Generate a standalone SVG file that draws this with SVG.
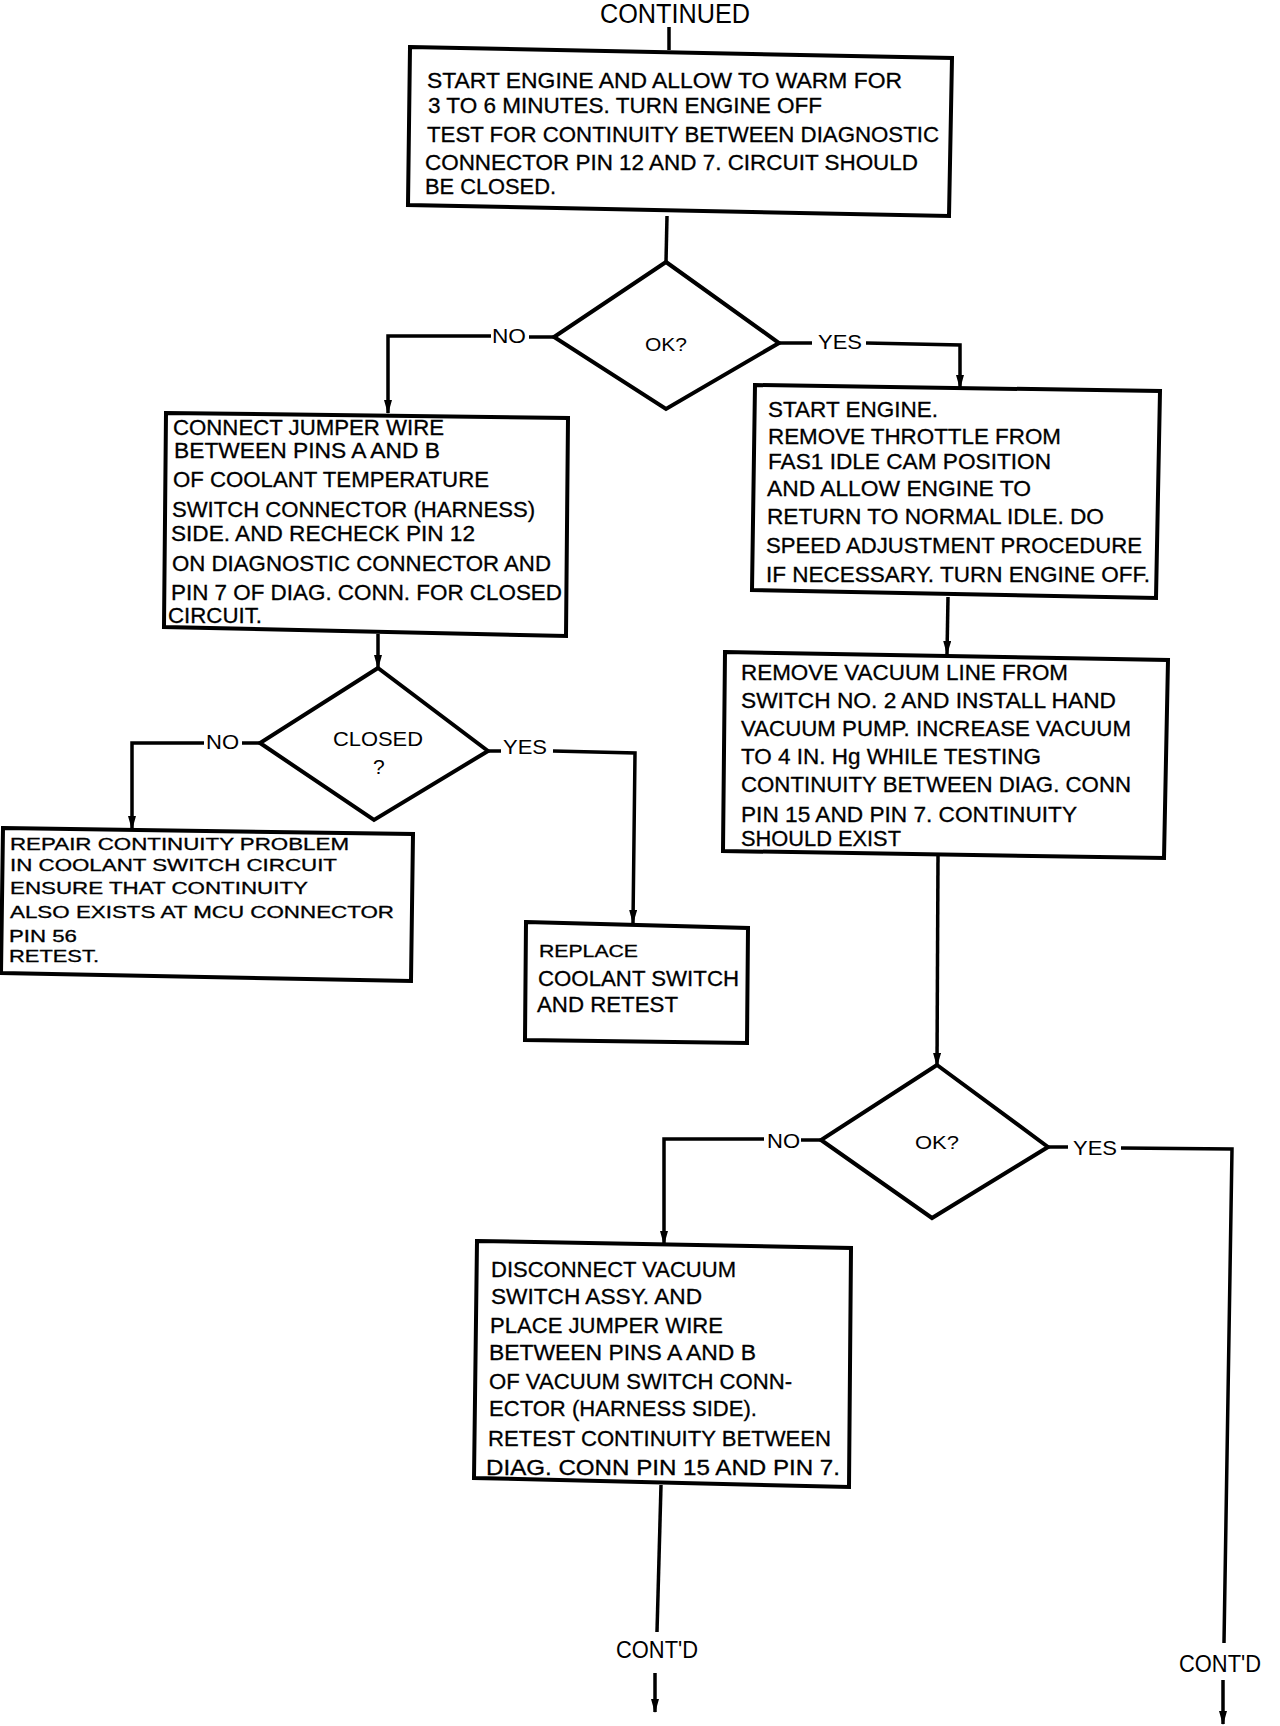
<svg xmlns="http://www.w3.org/2000/svg" width="1280" height="1726" viewBox="0 0 1280 1726">
<style>
.bg{fill:#fff}
.box{fill:#fff;stroke:#000;stroke-width:4;stroke-linejoin:miter}
.dia{fill:#fff;stroke:#000;stroke-width:4;stroke-linejoin:miter}
.ln{fill:none;stroke:#000;stroke-width:3.5}
text{font-family:"Liberation Sans",Arial,sans-serif;fill:#000}
.t1{font-size:22px;stroke:#000;stroke-width:0.3}
.t{font-size:22px;stroke:#000;stroke-width:0.3}
.s{font-size:17px;stroke:#000;stroke-width:0.3}
.lb{font-size:21px}
.q{font-size:18px}
.big{font-size:27px}
.cd{font-size:23px}
</style>
<defs>
<marker id="ah" viewBox="0 0 14 8" refX="13" refY="4" markerWidth="14" markerHeight="8" markerUnits="userSpaceOnUse" orient="auto">
<path d="M0,0 L14,4 L0,8 z" fill="#000"/>
</marker>
</defs>
<rect class="bg" x="0" y="0" width="1280" height="1726"/>

<g id="connectors">
<line class="ln" x1="669" y1="27" x2="669" y2="50"/>
<line class="ln" x1="667" y1="216" x2="666" y2="262"/>
<line class="ln" x1="554" y1="337" x2="529" y2="337"/>
<polyline class="ln" points="491,336 388,336 388,413" marker-end="url(#ah)"/>
<line class="ln" x1="779" y1="343" x2="812" y2="343"/>
<polyline class="ln" points="866,343 960,345 960,388" marker-end="url(#ah)"/>
<line class="ln" x1="378" y1="634" x2="378" y2="668" marker-end="url(#ah)"/>
<line class="ln" x1="260" y1="743" x2="242" y2="743"/>
<polyline class="ln" points="204,743 132,743 132,829" marker-end="url(#ah)"/>
<line class="ln" x1="488" y1="751" x2="501" y2="751"/>
<polyline class="ln" points="553,751 635,753 633,923" marker-end="url(#ah)"/>
<line class="ln" x1="948" y1="597" x2="947" y2="654" marker-end="url(#ah)"/>
<line class="ln" x1="938" y1="856" x2="937" y2="1066" marker-end="url(#ah)"/>
<line class="ln" x1="821" y1="1140" x2="801" y2="1140"/>
<polyline class="ln" points="764,1139 664,1139 664,1244" marker-end="url(#ah)"/>
<line class="ln" x1="1048" y1="1147" x2="1068" y2="1147"/>
<polyline class="ln" points="1121,1148 1232,1149 1224,1643"/>
<line class="ln" x1="661" y1="1485" x2="657" y2="1632"/>
<line class="ln" x1="655" y1="1673" x2="655" y2="1712" marker-end="url(#ah)"/>
<line class="ln" x1="1223" y1="1680" x2="1223" y2="1724" marker-end="url(#ah)"/>
</g>

<g id="start-continued">
<text class="big" x="600" y="23" textLength="150" lengthAdjust="spacingAndGlyphs">CONTINUED</text>
</g>

<g id="box1">
<polygon class="box" points="410,47 952,58 949,216 408,205"/>
<text class="t1" x="427" y="88" textLength="475" lengthAdjust="spacingAndGlyphs">START ENGINE AND ALLOW TO WARM FOR</text>
<text class="t1" x="428" y="113" textLength="394" lengthAdjust="spacingAndGlyphs">3 TO 6 MINUTES. TURN ENGINE OFF</text>
<text class="t1" x="427" y="142" textLength="512" lengthAdjust="spacingAndGlyphs">TEST FOR CONTINUITY BETWEEN DIAGNOSTIC</text>
<text class="t1" x="425" y="170" textLength="493" lengthAdjust="spacingAndGlyphs">CONNECTOR PIN 12 AND 7. CIRCUIT SHOULD</text>
<text class="t1" x="425" y="194" textLength="131" lengthAdjust="spacingAndGlyphs">BE CLOSED.</text>
</g>

<g id="decision1">
<polygon class="dia" points="666,262 779,343 666,409 554,337"/>
<text class="q" x="645" y="351" textLength="42" lengthAdjust="spacingAndGlyphs">OK?</text>
<text class="lb" x="492" y="343" textLength="34" lengthAdjust="spacingAndGlyphs">NO</text>
<text class="lb" x="818" y="349" textLength="44" lengthAdjust="spacingAndGlyphs">YES</text>
</g>

<g id="box2">
<polygon class="box" points="166,413 568,418 566,636 164,627"/>
<text class="t" x="173" y="435" textLength="271" lengthAdjust="spacingAndGlyphs">CONNECT JUMPER WIRE</text>
<text class="t" x="174" y="458" textLength="266" lengthAdjust="spacingAndGlyphs">BETWEEN PINS A AND B</text>
<text class="t" x="173" y="487" textLength="316" lengthAdjust="spacingAndGlyphs">OF COOLANT TEMPERATURE</text>
<text class="t" x="172" y="517" textLength="363" lengthAdjust="spacingAndGlyphs">SWITCH CONNECTOR (HARNESS)</text>
<text class="t" x="171" y="541" textLength="304" lengthAdjust="spacingAndGlyphs">SIDE. AND RECHECK PIN 12</text>
<text class="t" x="172" y="571" textLength="379" lengthAdjust="spacingAndGlyphs">ON DIAGNOSTIC CONNECTOR AND</text>
<text class="t" x="171" y="600" textLength="391" lengthAdjust="spacingAndGlyphs">PIN 7 OF DIAG. CONN. FOR CLOSED</text>
<text class="t" x="168" y="623" textLength="94" lengthAdjust="spacingAndGlyphs">CIRCUIT.</text>
</g>

<g id="box3">
<polygon class="box" points="755,385 1160,391 1156,598 752,590"/>
<text class="t" x="768" y="417" textLength="170" lengthAdjust="spacingAndGlyphs">START ENGINE.</text>
<text class="t" x="768" y="444" textLength="293" lengthAdjust="spacingAndGlyphs">REMOVE THROTTLE FROM</text>
<text class="t" x="768" y="469" textLength="283" lengthAdjust="spacingAndGlyphs">FAS1 IDLE CAM POSITION</text>
<text class="t" x="767" y="496" textLength="264" lengthAdjust="spacingAndGlyphs">AND ALLOW ENGINE TO</text>
<text class="t" x="767" y="524" textLength="337" lengthAdjust="spacingAndGlyphs">RETURN TO NORMAL IDLE. DO</text>
<text class="t" x="766" y="553" textLength="376" lengthAdjust="spacingAndGlyphs">SPEED ADJUSTMENT PROCEDURE</text>
<text class="t" x="766" y="582" textLength="384" lengthAdjust="spacingAndGlyphs">IF NECESSARY. TURN ENGINE OFF.</text>
</g>

<g id="decision2">
<polygon class="dia" points="378,668 488,751 374,820 260,743"/>
<text class="lb" x="333" y="746" textLength="90" lengthAdjust="spacingAndGlyphs">CLOSED</text>
<text class="lb" x="373" y="774">?</text>
<text class="lb" x="206" y="749" textLength="33" lengthAdjust="spacingAndGlyphs">NO</text>
<text class="lb" x="503" y="754" textLength="44" lengthAdjust="spacingAndGlyphs">YES</text>
</g>

<g id="box4">
<polygon class="box" points="3,828 413,834 411,981 1,973"/>
<text class="s" x="10" y="850" textLength="339" lengthAdjust="spacingAndGlyphs">REPAIR CONTINUITY PROBLEM</text>
<text class="s" x="10" y="871" textLength="327" lengthAdjust="spacingAndGlyphs">IN COOLANT SWITCH CIRCUIT</text>
<text class="s" x="10" y="894" textLength="298" lengthAdjust="spacingAndGlyphs">ENSURE THAT CONTINUITY</text>
<text class="s" x="10" y="918" textLength="384" lengthAdjust="spacingAndGlyphs">ALSO EXISTS AT MCU CONNECTOR</text>
<text class="s" x="9" y="942" textLength="68" lengthAdjust="spacingAndGlyphs">PIN 56</text>
<text class="s" x="9" y="962" textLength="90" lengthAdjust="spacingAndGlyphs">RETEST.</text>
</g>

<g id="box5">
<polygon class="box" points="526,922 748,928 747,1043 525,1040"/>
<text class="s" x="539" y="957" textLength="99" lengthAdjust="spacingAndGlyphs">REPLACE</text>
<text class="t" x="538" y="986" textLength="201" lengthAdjust="spacingAndGlyphs">COOLANT SWITCH</text>
<text class="t" x="537" y="1012" textLength="141" lengthAdjust="spacingAndGlyphs">AND RETEST</text>
</g>

<g id="box6">
<polygon class="box" points="725,652 1168,660 1164,858 723,851"/>
<text class="t" x="741" y="680" textLength="327" lengthAdjust="spacingAndGlyphs">REMOVE VACUUM LINE FROM</text>
<text class="t" x="741" y="708" textLength="375" lengthAdjust="spacingAndGlyphs">SWITCH NO. 2 AND INSTALL HAND</text>
<text class="t" x="741" y="736" textLength="390" lengthAdjust="spacingAndGlyphs">VACUUM PUMP. INCREASE VACUUM</text>
<text class="t" x="741" y="764" textLength="300" lengthAdjust="spacingAndGlyphs">TO 4 IN. Hg WHILE TESTING</text>
<text class="t" x="741" y="792" textLength="390" lengthAdjust="spacingAndGlyphs">CONTINUITY BETWEEN DIAG. CONN</text>
<text class="t" x="741" y="822" textLength="336" lengthAdjust="spacingAndGlyphs">PIN 15 AND PIN 7. CONTINUITY</text>
<text class="t" x="741" y="846" textLength="160" lengthAdjust="spacingAndGlyphs">SHOULD EXIST</text>
</g>

<g id="decision3">
<polygon class="dia" points="937,1065 1048,1147 932,1218 821,1140"/>
<text class="q" x="915" y="1149" textLength="44" lengthAdjust="spacingAndGlyphs">OK?</text>
<text class="lb" x="767" y="1148" textLength="33" lengthAdjust="spacingAndGlyphs">NO</text>
<text class="lb" x="1073" y="1155" textLength="44" lengthAdjust="spacingAndGlyphs">YES</text>
</g>

<g id="box7">
<polygon class="box" points="477,1241 851,1248 849,1487 474,1478"/>
<text class="t" x="491" y="1277" textLength="245" lengthAdjust="spacingAndGlyphs">DISCONNECT VACUUM</text>
<text class="t" x="491" y="1304" textLength="211" lengthAdjust="spacingAndGlyphs">SWITCH ASSY. AND</text>
<text class="t" x="490" y="1333" textLength="233" lengthAdjust="spacingAndGlyphs">PLACE JUMPER WIRE</text>
<text class="t" x="489" y="1360" textLength="267" lengthAdjust="spacingAndGlyphs">BETWEEN PINS A AND B</text>
<text class="t" x="489" y="1389" textLength="303" lengthAdjust="spacingAndGlyphs">OF VACUUM SWITCH CONN-</text>
<text class="t" x="489" y="1416" textLength="268" lengthAdjust="spacingAndGlyphs">ECTOR (HARNESS SIDE).</text>
<text class="t" x="488" y="1446" textLength="343" lengthAdjust="spacingAndGlyphs">RETEST CONTINUITY BETWEEN</text>
<text class="t" x="486" y="1475" textLength="354" lengthAdjust="spacingAndGlyphs">DIAG. CONN PIN 15 AND PIN 7.</text>
</g>

<g id="contd-left">
<text class="cd" x="616" y="1658" textLength="82" lengthAdjust="spacingAndGlyphs">CONT'D</text>
</g>
<g id="contd-right">
<text class="cd" x="1179" y="1672" textLength="82" lengthAdjust="spacingAndGlyphs">CONT'D</text>
</g>
</svg>
